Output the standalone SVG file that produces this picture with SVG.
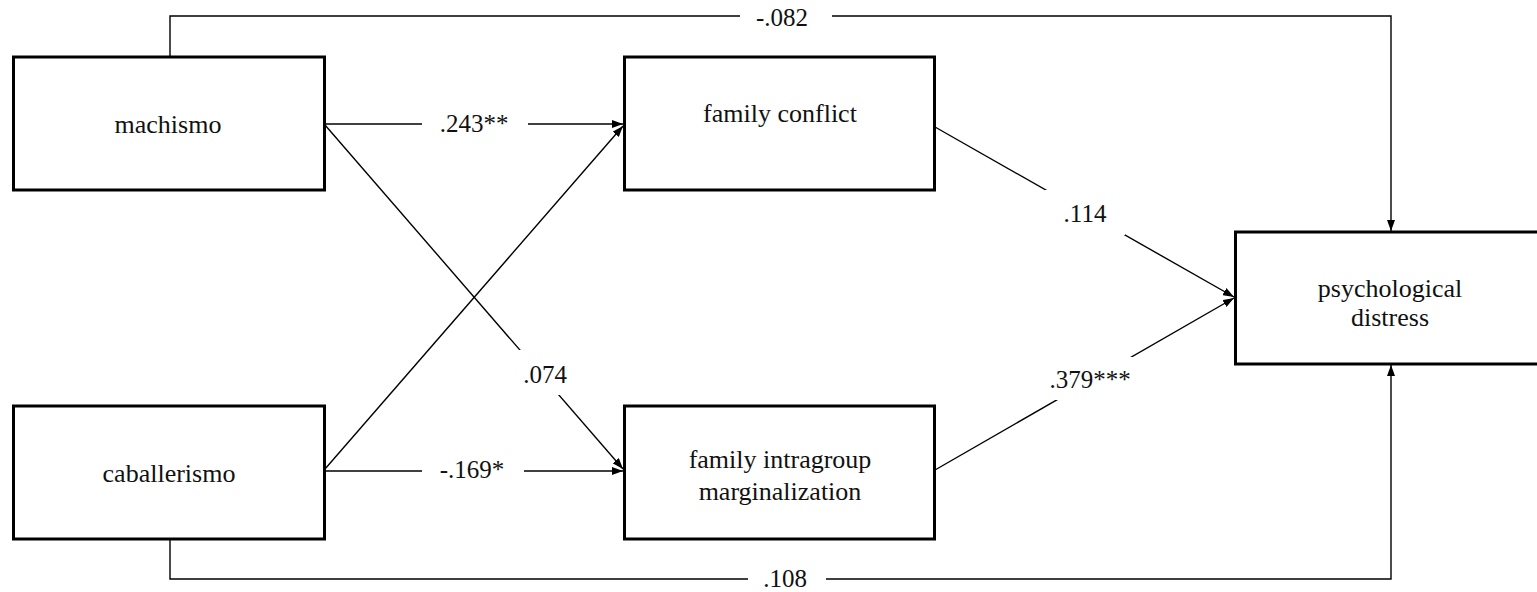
<svg xmlns="http://www.w3.org/2000/svg" width="1537" height="592" viewBox="0 0 1537 592">
<style>
.box{fill:#fff;stroke:#000;stroke-width:3}
.node{font-family:"Liberation Serif","Times New Roman",serif;font-size:26px;fill:#111;text-anchor:middle}
.lbl{font-family:"Liberation Serif","Times New Roman",serif;font-size:25px;fill:#111;text-anchor:middle}
.ln{fill:none;stroke:#000;stroke-width:1.4}
.arr{marker-end:url(#ah)}
.bg{fill:#fff;stroke:none}
</style>
<defs>
<marker id="ah" markerUnits="userSpaceOnUse" markerWidth="11" markerHeight="8" refX="11" refY="4" orient="auto">
<path d="M0,0 L11,4 L0,8 z" fill="#000"/>
</marker>
</defs>
<rect width="1537" height="592" fill="#fff"/>
<g id="connectors">
<path class="ln arr" d="M170,57 V16 H1391 V231"/>
<path class="ln arr" d="M170,539 V579 H1391 V365"/>
<path class="ln arr" d="M325,124 H623"/>
<path class="ln arr" d="M325,471 H623"/>
<path class="ln arr" d="M325,125 L623,469"/>
<path class="ln arr" d="M325,469 L623,126"/>
<path class="ln arr" d="M935,127 L1234,297"/>
<path class="ln arr" d="M935,470 L1234,298"/>
<rect class="bg" x="740" y="4" width="92" height="24"/>
<text class="lbl" x="782" y="26">-.082</text>
<rect class="bg" x="422" y="110" width="106" height="30"/>
<text class="lbl" x="474" y="132">.243**</text>
<rect class="bg" x="505" y="350" width="81" height="45"/>
<text class="lbl" x="545" y="383">.074</text>
<rect class="bg" x="422" y="457" width="102" height="30"/>
<text class="lbl" x="472" y="478">-.169*</text>
<rect class="bg" x="1045" y="190" width="80" height="45"/>
<text class="lbl" x="1085" y="222">.114</text>
<rect class="bg" x="1028" y="357" width="124" height="43"/>
<text class="lbl" x="1090" y="388">.379***</text>
<rect class="bg" x="748" y="566" width="78" height="26"/>
<text class="lbl" x="785" y="587">.108</text>
</g>
<g id="machismo">
<rect class="box" x="13.5" y="57" width="311" height="133"/>
<text class="node" x="168" y="133">machismo</text>
</g>
<g id="caballerismo">
<rect class="box" x="13.5" y="406" width="311" height="133"/>
<text class="node" x="169" y="482">caballerismo</text>
</g>
<g id="family-conflict">
<rect class="box" x="624.5" y="57" width="310" height="133"/>
<text class="node" x="780" y="122">family conflict</text>
</g>
<g id="family-intragroup-marginalization">
<rect class="box" x="624.5" y="406" width="310" height="133"/>
<text class="node" x="780" y="468">family intragroup</text>
<text class="node" x="780" y="500">marginalization</text>
</g>
<g id="psychological-distress">
<rect class="box" x="1235.5" y="232" width="310" height="132"/>
<text class="node" x="1390" y="297">psychological</text>
<text class="node" x="1390" y="326">distress</text>
</g>
</svg>
